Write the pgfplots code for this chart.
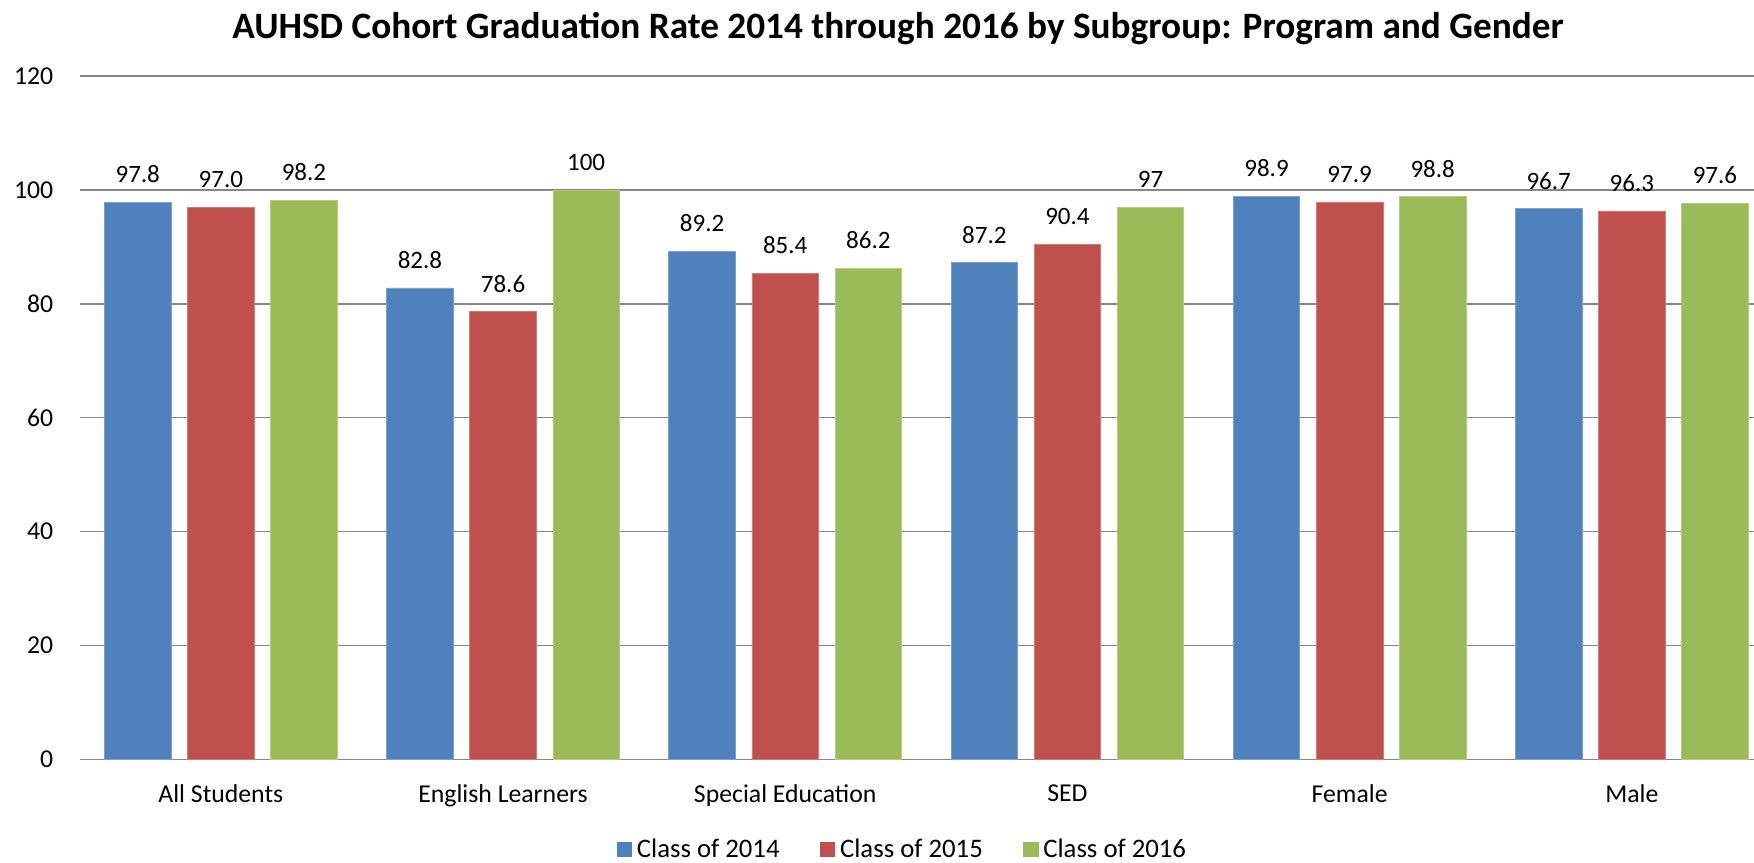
\documentclass[border=0pt]{standalone}
\usepackage{fontspec}
\setmainfont{Carlito}
\usepackage{pgfplots}
\pgfplotsset{compat=1.18}
\definecolor{c14}{HTML}{4F81BD}
\definecolor{c15}{HTML}{C0504D}
\definecolor{c16}{HTML}{9BBB59}
\definecolor{gridc}{HTML}{878787}

\begin{document}
\begin{tikzpicture}
\begin{axis}[
  scale only axis, width=669.7pt, height=273.4pt,
  xmin=-0.5, xmax=5.433, ymin=0, ymax=120,
  ytick={0,20,...,120}, xtick={0,...,5},
  xticklabels={All Students,English Learners,Special Education,SED,Female,Male},
  major tick length=0pt,
  axis line style={draw=none},
  ymajorgrids, grid style={gridc, line width=0.6pt},
  ybar, bar width=0.2357,
  clip=false,
  title={AUHSD Cohort Graduation Rate 2014 through 2016 by Subgroup: Program and Gender},
  title style={font=\fontsize{14.9}{18}\selectfont\bfseries, at={(0.4887,1)}, anchor=center, yshift=13pt},
  ticklabel style={font=\fontsize{10.3}{12}\selectfont},
  /pgf/number format/assume math mode=true,
  xticklabel style={yshift=-6.6pt},
  yticklabel style={xshift=-7.1pt},
  nodes near coords, point meta=explicit symbolic,
  nodes near coords style={font=\fontsize{10}{12}\selectfont, anchor=south, yshift=4.3pt, text=black},
  legend style={at={(0.4923,-0.132)}, anchor=center, draw=none, legend columns=3,
    font=\fontsize{10.7}{12}\selectfont, inner sep=0pt,
    /tikz/every even column/.append style={column sep=14.2pt}},
]
\addplot[fill=c14, draw=c14!75!white, line width=0.3pt, bar shift=-0.2945,
  legend image code/.code={\fill[c14] (0pt,-2.85pt) rectangle (5.7pt,2.85pt);}]
  coordinates {(0,97.8) [97.8] (1,82.8) [82.8] (2,89.2) [89.2] (3,87.2) [87.2] (4,98.9) [98.9] (5,96.7) [96.7]};
\addlegendentry{Class of 2014}
\addplot[fill=c15, draw=c15!75!white, line width=0.3pt, bar shift=0,
  legend image code/.code={\fill[c15] (0pt,-2.85pt) rectangle (5.7pt,2.85pt);}]
  coordinates {(0,97.0) [97.0] (1,78.6) [78.6] (2,85.4) [85.4] (3,90.4) [90.4] (4,97.9) [97.9] (5,96.3) [96.3]};
\addlegendentry{Class of 2015}
\addplot[fill=c16, draw=c16!75!white, line width=0.3pt, bar shift=0.2945,
  legend image code/.code={\fill[c16] (0pt,-2.85pt) rectangle (5.7pt,2.85pt);}]
  coordinates {(0,98.2) [98.2] (1,100) [100] (2,86.2) [86.2] (3,97) [97] (4,98.8) [98.8] (5,97.6) [97.6]};
\addlegendentry{Class of 2016}
\end{axis}
\pgfresetboundingbox
\path[use as bounding box] (-31.9pt,-41.4pt) rectangle (669.7pt,303.8pt);
\end{tikzpicture}
\end{document}
